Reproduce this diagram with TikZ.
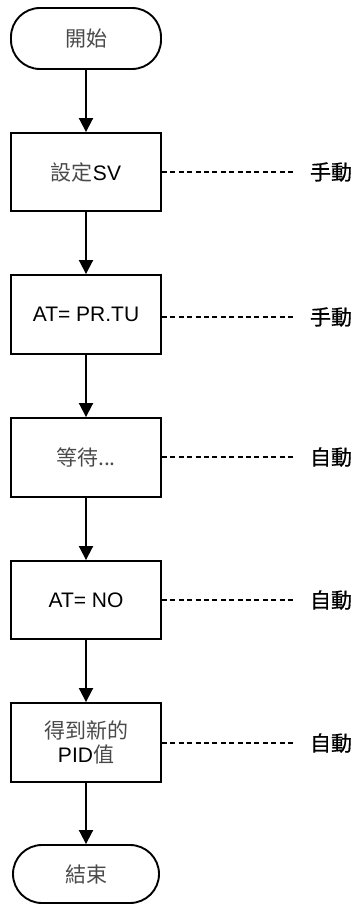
\documentclass[tikz,border=0pt]{standalone}
\usepackage{fontspec}
\setmainfont{Liberation Sans}
\newfontfamily\cjk{Noto Sans CJK TC}
\newfontfamily\cjklabel[FakeBold=0.6]{Noto Sans CJK TC}
\usetikzlibrary{arrows.meta}
\definecolor{cjkgray}{HTML}{4A4A4A}
\newcommand{\cg}[1]{{\cjk\color{cjkgray}#1}}
\begin{document}
\begin{tikzpicture}[x=1pt,y=-1pt,
  every node/.style={font=\fontsize{21}{25}\selectfont},
  procbox/.style={draw, line width=1.9pt, minimum width=150pt, minimum height=78pt, inner sep=0pt, align=center},
  termbox/.style={draw, line width=1.9pt, rounded corners=29pt, inner sep=0pt},
  flow/.style={line width=1.9pt, -{Triangle[width=14pt,length=14pt]}},
  dotline/.style={line width=1.9pt, dash pattern=on 5pt off 3.4pt, shorten >=15pt},
  sidelabel/.style={inner sep=0pt, font=\cjklabel\fontsize{21}{25}\selectfont}]
\useasboundingbox (0,0) rectangle (354,904);
\node[termbox, minimum width=150pt, minimum height=61pt] (start) at (86,38.5) {\cg{開始}};
\node[procbox] (b1) at (86,172) {\cg{設定}SV};
\node[procbox, minimum height=79pt] (b2) at (86,314.5) {AT= PR.TU};
\node[procbox, minimum height=79pt] (b3) at (86,457.5) {\cg{等待...}};
\node[procbox] (b4) at (86,600) {AT= NO};
\node[procbox, minimum height=79pt] (b5) at (86,742.5) {\cg{得到新的}\\[-1pt]PID\cg{值}};
\node[termbox, minimum width=146pt, minimum height=58pt] (end) at (86,874) {\cg{結束}};
\node[sidelabel] (l1) at (331,172) {手動};
\node[sidelabel] (l2) at (331,317) {手動};
\node[sidelabel] (l3) at (331,457) {自動};
\node[sidelabel] (l4) at (331,600) {自動};
\node[sidelabel] (l5) at (331,743) {自動};
\draw[flow] (start) -- (b1);
\draw[flow] (b1) -- (b2);
\draw[flow] (b2) -- (b3);
\draw[flow] (b3) -- (b4);
\draw[flow] (b4) -- (b5);
\draw[flow] (b5) -- (end);
\draw[dotline] (b1.east |- l1.west) -- (l1.west);
\draw[dotline] (b2.east |- l2.west) -- (l2.west);
\draw[dotline] (b3.east |- l3.west) -- (l3.west);
\draw[dotline] (b4.east |- l4.west) -- (l4.west);
\draw[dotline] (b5.east |- l5.west) -- (l5.west);
\end{tikzpicture}
\end{document}
